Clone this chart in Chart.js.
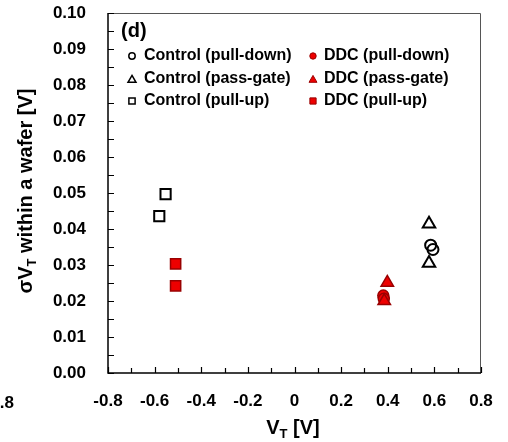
<!DOCTYPE html>
<html>
<head>
<meta charset="utf-8">
<script src="https://cdn.jsdelivr.net/npm/chart.js@4"></script>
<style>
  body { margin: 0; background: #fff; }
  canvas { display: block; }
</style>
</head>
<body>
<canvas id="chart" width="508" height="442"></canvas>
<script>
// values
const ctrlPullDownX = [0.584, 0.594];
const ctrlPullDownY = [0.0355, 0.0343];
const ctrlPassGateX = [0.577, 0.577];
const ctrlPassGateY = [0.0414, 0.0305];
const ctrlPullUpX = [-0.553, -0.580];
const ctrlPullUpY = [0.0497, 0.0436];
const ddcPullDownX = [0.381, 0.383];
const ddcPullDownY = [0.0215, 0.0206];
const ddcPassGateX = [0.398, 0.385];
const ddcPassGateY = [0.0251, 0.0200];
const ddcPullUpX = [-0.510, -0.510];
const ddcPullUpY = [0.0303, 0.0242];

const seriesNames = [
  'Control (pull-down)', 'Control (pass-gate)', 'Control (pull-up)',
  'DDC (pull-down)', 'DDC (pass-gate)', 'DDC (pull-up)',
];

const FONT = '"Liberation Sans", Arial, sans-serif';
const RED = '#ee0000';
const RED_EDGE = '#990000';

function pts(xs, ys) {
  return xs.map((x, i) => ({ x: x, y: ys[i] }));
}

function control(label, data, style, radius) {
  return {
    label: label,
    data: data,
    pointStyle: style,
    pointRadius: radius,
    pointHoverRadius: radius,
    pointBorderWidth: 2,
    borderColor: '#000',
    backgroundColor: 'rgba(255,255,255,0)',
    order: 2,
  };
}

function ddc(label, data, style, radius, order) {
  return {
    label: label,
    data: data,
    pointStyle: style,
    pointRadius: radius,
    pointHoverRadius: radius,
    pointBorderWidth: 1.5,
    borderColor: RED_EDGE,
    backgroundColor: RED,
    order: order,
  };
}

const legendStyles = ['circle', 'triangle', 'rect'];

// legend, panel letter, axis titles, inward ticks and frame
const decorations = {
  id: 'decorations',
  afterDraw(chart) {
    const ctx = chart.ctx;
    const area = chart.chartArea;
    const sx = chart.scales.x;
    const sy = chart.scales.y;

    ctx.save();

    // frame
    ctx.strokeStyle = '#555';
    ctx.lineWidth = 1;
    ctx.beginPath();
    ctx.moveTo(area.left, area.top + 0.5);
    ctx.lineTo(area.right - 0.5, area.top + 0.5);
    ctx.lineTo(area.right - 0.5, area.bottom);
    ctx.stroke();

    ctx.strokeStyle = '#000';
    ctx.lineWidth = 1.5;
    ctx.beginPath();
    ctx.moveTo(area.left, area.top);
    ctx.lineTo(area.left, area.bottom);
    ctx.lineTo(area.right, area.bottom);
    ctx.stroke();

    // inward ticks
    ctx.lineWidth = 1.2;
    ctx.beginPath();
    sx.ticks.forEach((t) => {
      const px = Math.round(sx.getPixelForValue(t.value)) + 0.5;
      const major = Math.round(t.value * 10) % 2 === 0;
      ctx.moveTo(px, area.bottom);
      ctx.lineTo(px, area.bottom - (major ? 6 : 5));
    });
    sy.ticks.forEach((t) => {
      const py = Math.round(sy.getPixelForValue(t.value)) + 0.5;
      ctx.moveTo(area.left, py);
      ctx.lineTo(area.left + 6, py);
    });
    ctx.stroke();

    ctx.fillStyle = '#000';
    ctx.textBaseline = 'middle';

    // panel letter
    ctx.textAlign = 'left';
    ctx.font = `bold 20px ${FONT}`;
    ctx.fillText('(d)', 121, 31);

    // legend
    const rows = [56, 79, 101];
    const cols = [{ mx: 132, tx: 144 }, { mx: 313, tx: 324 }];
    ctx.font = `bold 16px ${FONT}`;
    seriesNames.forEach((name, i) => {
      const col = cols[Math.floor(i / 3)];
      const y = rows[i % 3];
      const isDdc = i >= 3;
      ctx.save();
      ctx.strokeStyle = isDdc ? RED_EDGE : '#000';
      ctx.fillStyle = isDdc ? RED : '#fff';
      ctx.lineWidth = isDdc ? 1 : 1.5;
      const style = legendStyles[i % 3];
      const r = style === 'circle' ? 3.2 : (style === 'triangle' ? 4.6 : 4.4);
      Chart.helpers.drawPoint(ctx, { pointStyle: style, radius: r, borderWidth: ctx.lineWidth }, col.mx, style === 'triangle' ? y + 1 : y);
      ctx.restore();
      ctx.fillText(name, col.tx, y);
    });

    // x title: V_T [V]
    const bigFont = `bold 20px ${FONT}`;
    const subFont = `bold 13px ${FONT}`;
    ctx.font = bigFont;
    const wV = ctx.measureText('V').width;
    const wRest = ctx.measureText(' [V]').width;
    ctx.font = subFont;
    const wT = ctx.measureText('T').width;
    let x0 = 293 - (wV + wT + wRest) / 2;
    const yT = 428;
    ctx.textAlign = 'left';
    ctx.font = bigFont;
    ctx.fillText('V', x0, yT);
    ctx.font = subFont;
    ctx.fillText('T', x0 + wV, yT + 6);
    ctx.font = bigFont;
    ctx.fillText(' [V]', x0 + wV + wT, yT);

    // y title: σV_T within a wafer [V]
    ctx.save();
    ctx.translate(26, 191);
    ctx.rotate(-Math.PI / 2);
    ctx.font = bigFont;
    const wA = ctx.measureText('σV').width;
    const wB = ctx.measureText(' within a wafer [V]').width;
    ctx.font = subFont;
    const wS = ctx.measureText('T').width;
    let s0 = -(wA + wS + wB) / 2;
    ctx.font = bigFont;
    ctx.fillText('σV', s0, 0);
    ctx.font = subFont;
    ctx.fillText('T', s0 + wA, 6);
    ctx.font = bigFont;
    ctx.fillText(' within a wafer [V]', s0 + wA + wS, 0);
    ctx.restore();

    // cut-off tick label of the neighbouring panel
    ctx.textAlign = 'right';
    ctx.font = `bold 17px ${FONT}`;
    ctx.fillText('-0.8', 14, 403);

    ctx.restore();
  },
};

new Chart(document.getElementById('chart'), {
  type: 'scatter',
  data: {
    datasets: [
      control(seriesNames[0], pts(ctrlPullDownX, ctrlPullDownY), 'circle', 5.5),
      control(seriesNames[1], pts(ctrlPassGateX, ctrlPassGateY), 'triangle', 7.2),
      control(seriesNames[2], pts(ctrlPullUpX, ctrlPullUpY), 'rect', 7.2),
      ddc(seriesNames[3], pts(ddcPullDownX, ddcPullDownY), 'circle', 5.5, 1),
      ddc(seriesNames[4], pts(ddcPassGateX, ddcPassGateY), 'triangle', 7.2, 0),
      ddc(seriesNames[5], pts(ddcPullUpX, ddcPullUpY), 'rect', 7.2, 1),
    ],
  },
  options: {
    responsive: false,
    animation: false,
    devicePixelRatio: 1,
    layout: {
      padding: { left: 0, right: 27, top: 13, bottom: 0 },
    },
    scales: {
      x: {
        type: 'linear',
        min: -0.8,
        max: 0.8,
        afterFit: (scale) => {
          scale.height = 69;
          scale.paddingLeft = 0;
          scale.paddingRight = 0;
        },
        grid: { display: false, drawTicks: false },
        border: { display: false },
        ticks: {
          stepSize: 0.1,
          autoSkip: false,
          maxRotation: 0,
          padding: 18,
          color: '#000',
          font: { family: FONT, size: 17, weight: 'bold' },
          callback: (v) => {
            const k = Math.round(v * 10);
            if (k % 2 !== 0) return '';
            return k === 0 ? '0' : (k / 10).toFixed(1);
          },
        },
      },
      y: {
        type: 'linear',
        min: 0,
        max: 0.1,
        afterFit: (scale) => {
          scale.width = 108;
          scale.paddingTop = 0;
          scale.paddingBottom = 0;
        },
        grid: { display: false, drawTicks: false },
        border: { display: false },
        ticks: {
          stepSize: 0.005,
          autoSkip: false,
          padding: 22,
          color: '#000',
          font: { family: FONT, size: 17, weight: 'bold' },
          callback: (v) => {
            const k = Math.round(v * 1000);
            return k % 10 === 0 ? (k / 1000).toFixed(2) : '';
          },
        },
      },
    },
    plugins: {
      legend: { display: false },
      tooltip: { enabled: false },
    },
  },
  plugins: [decorations],
});
</script>
</body>
</html>
